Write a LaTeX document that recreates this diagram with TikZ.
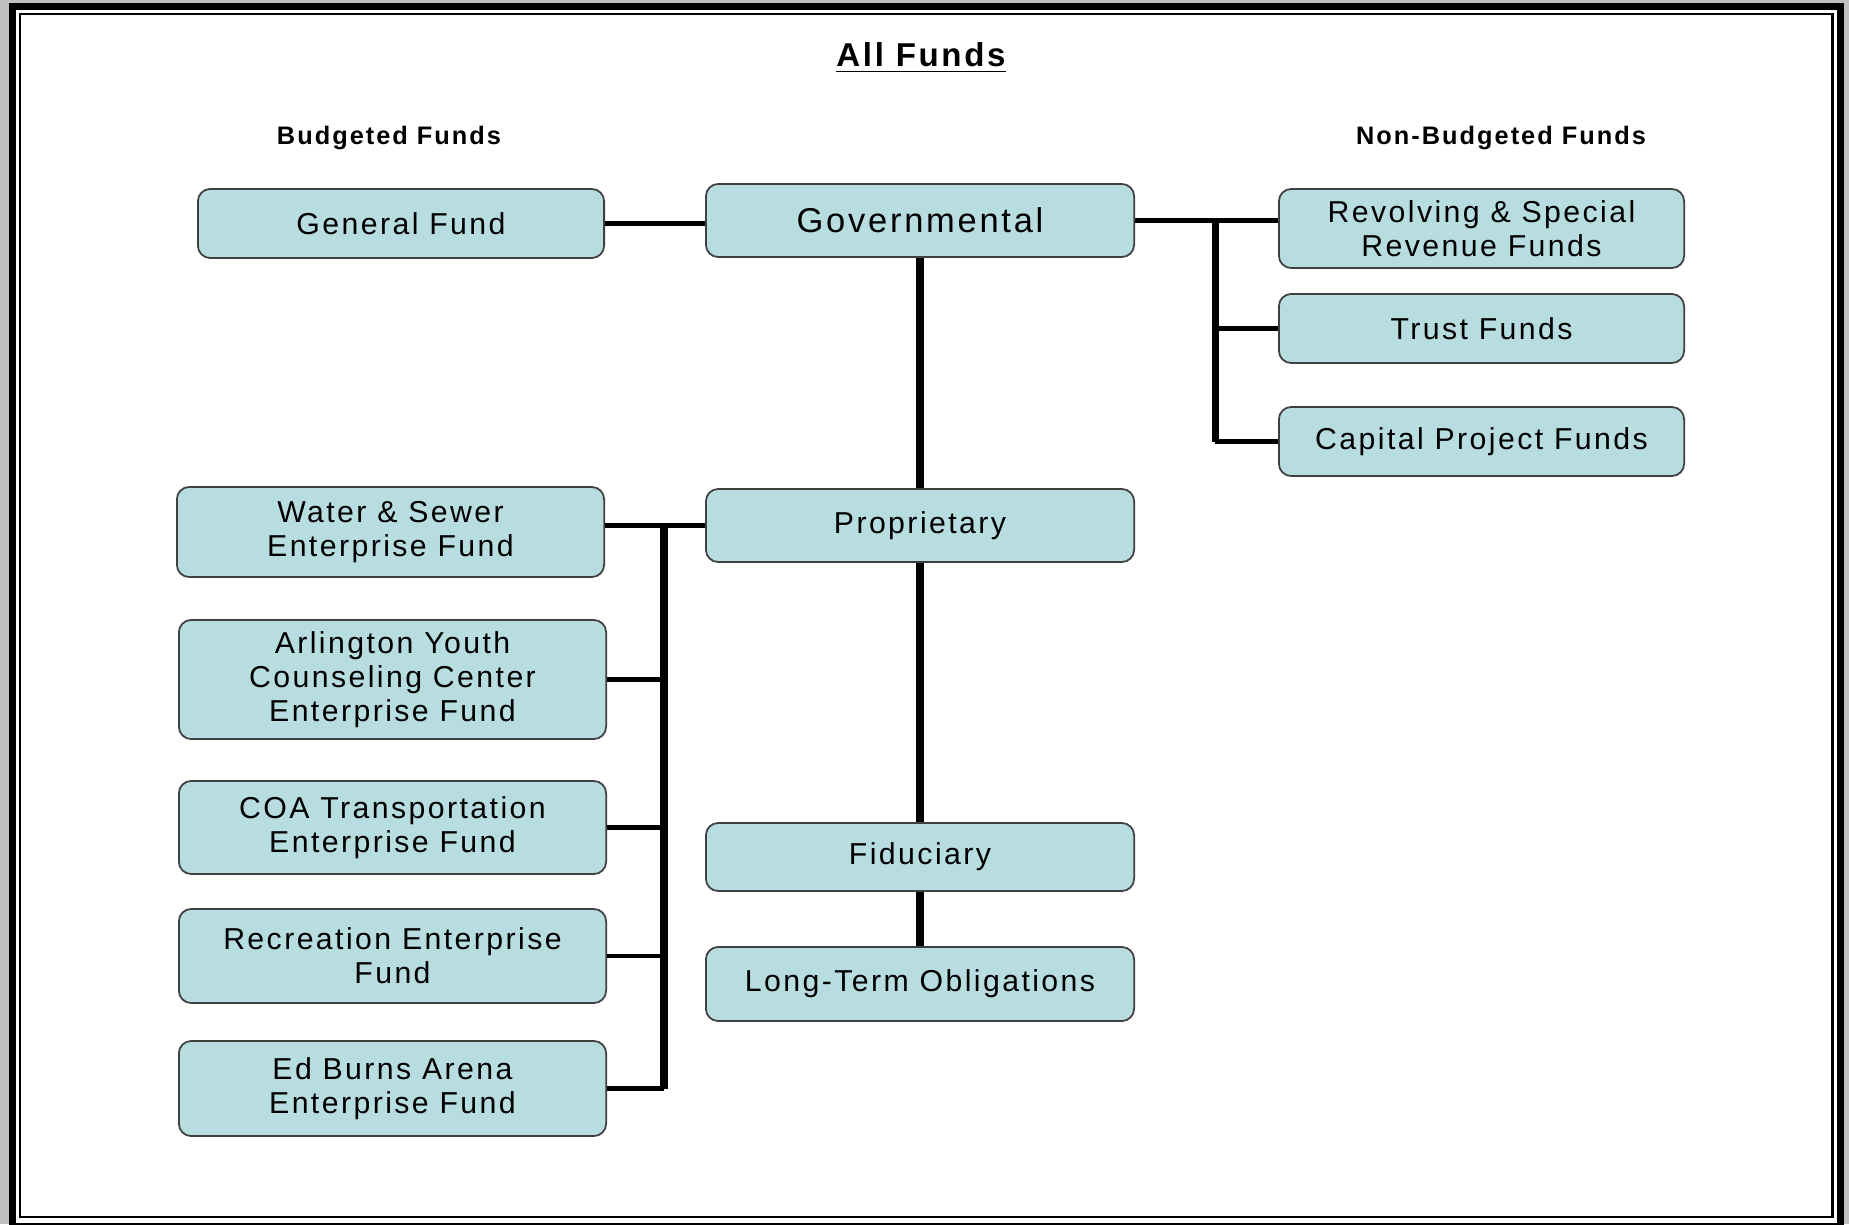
\documentclass[tikz,border=0pt]{standalone}
\usepackage{fontspec}
\setmainfont{Liberation Sans}[LetterSpace=8]
\usepackage{xcolor}
\definecolor{f1}{HTML}{B8DDE1}
\definecolor{g1}{HTML}{C0C0C0}
\tikzset{
	fund/.style={draw=black!75,fill=f1,rounded corners=3.5pt,line width=0.5pt,align=center,inner sep=2pt,minimum width=4.27cm,font=\fontsize{8.6}{9.7}\selectfont},
	link/.style={line width=1.4pt},
	bus/.style={line width=2pt},
	head/.style={font=\fontsize{7.2}{8}\selectfont\bfseries}
}

\begin{document}
\begin{tikzpicture}[x=0.01cm,y=-0.01cm]
	\useasboundingbox (0,0) rectangle (1849,1224);
	% frame
	\fill [g1] (0,0) rectangle (1849,1224);
	\draw [fill=white,line width=2pt] (12.5,6.5) rectangle (1840.5,1226);
	\draw [line width=0.6pt] (20,14) rectangle (1832.5,1217);
	% headings
	\node (title) at (921,58) {\fontsize{9.4}{10}\selectfont\bfseries\underline{All Funds}};
	\node [head] (bud) at (389,138) {Budgeted Funds};
	\node [head] (nonbud) at (1501,138) {Non-Budgeted Funds};
	% middle column
	\node [fund,minimum width=4.28cm,minimum height=0.73cm,font=\fontsize{9.8}{10}\selectfont] (gov) at (920,220.5) {Governmental};
	\node [fund,minimum width=4.28cm,minimum height=0.73cm] (prop) at (920,525.5) {Proprietary};
	\node [fund,minimum width=4.28cm,minimum height=0.68cm] (fid) at (920,857) {Fiduciary};
	\node [fund,minimum width=4.28cm,minimum height=0.74cm] (lto) at (920,984) {Long-Term Obligations};
	% budgeted
	\node [fund,minimum width=4.06cm,minimum height=0.69cm] (gen) at (401,223.5) {General Fund};
	\node [fund,minimum height=0.9cm] (water) at (390.5,532) {Water \& Sewer\\Enterprise Fund};
	\node [fund,minimum height=1.19cm] (arl) at (392.5,679.5) {Arlington Youth\\Counseling Center\\Enterprise Fund};
	\node [fund,minimum height=0.93cm] (coa) at (392.5,827.5) {COA Transportation\\Enterprise Fund};
	\node [fund,minimum height=0.94cm] (rec) at (392.5,956) {Recreation Enterprise\\Fund};
	\node [fund,minimum height=0.95cm] (ed) at (392.5,1088.5) {Ed Burns Arena\\Enterprise Fund};
	% non-budgeted
	\node [fund,minimum width=4.05cm,minimum height=0.79cm] (rev) at (1481.5,228.5) {Revolving \& Special\\Revenue Funds};
	\node [fund,minimum width=4.05cm,minimum height=0.69cm] (trust) at (1481.5,328.5) {Trust Funds};
	\node [fund,minimum width=4.05cm,minimum height=0.69cm] (cap) at (1481.5,441.5) {Capital Project Funds};
	% connectors
	\draw [link] (gen.east) -- (gen.east -| gov.west);
	\draw [bus] (gov.south) -- (prop.north);
	\draw [bus] (prop.south) -- (fid.north);
	\draw [bus] (fid.south) -- (lto.north);
	\coordinate (rbus) at (1215,220.5);
	\draw [link] (gov.east) -- (gov.east -| rev.west);
	\draw [bus] (rbus) -- (rbus |- cap.west);
	\draw [link] (rbus |- trust.west) -- (trust.west);
	\draw [link] (rbus |- cap.west) -- (cap.west);
	\coordinate (lbus) at (664,525.5);
	\draw [link] (prop.west) -- (prop.west -| water.east);
	\draw [bus] (lbus) -- (lbus |- ed.east);
	\foreach \n in {arl,coa,rec,ed}
		\draw [link] (\n.east) -- (\n.east -| lbus);
\end{tikzpicture}
\end{document}
